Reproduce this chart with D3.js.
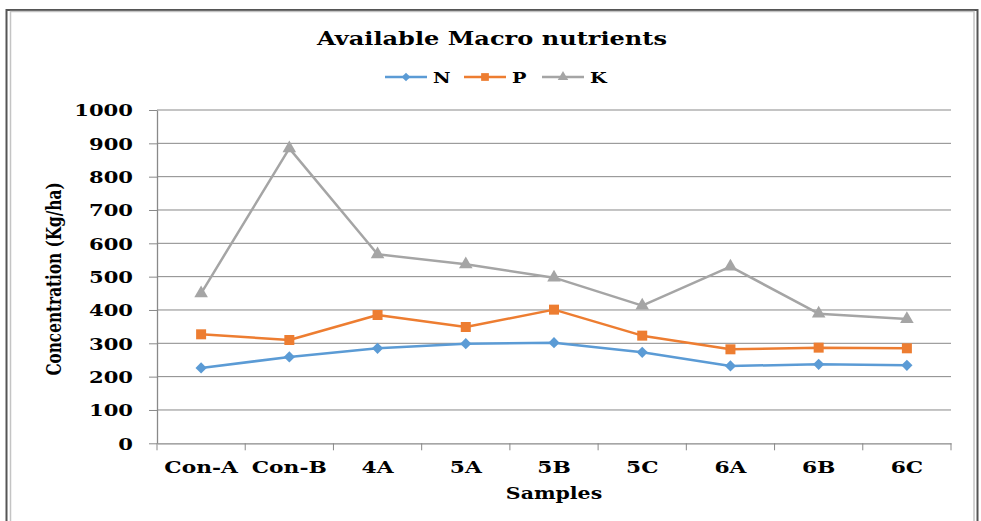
<!DOCTYPE html>
<html>
<head>
<meta charset="utf-8">
<script src="https://cdn.jsdelivr.net/npm/d3@7/dist/d3.min.js"></script>
<style>
  html, body { margin: 0; padding: 0; background: #fff; }
  svg { display: block; }
  .axis path, .axis line { stroke: #898989; }
</style>
</head>
<body>
<div class="app"></div>
<script>
'use strict'

// samples on the x axis
var categories = ["Con-A", "Con-B", "4A", "5A", "5B", "5C", "6A", "6B", "6C"];

// values (Kg/ha)
var nValues = [226, 259, 285, 299, 302, 273, 232, 237, 234];
var pValues = [327, 310, 385, 349, 401, 323, 282, 287, 285];
var kValues = [450, 885, 567, 537, 497, 413, 530, 389, 373];

var seriesNames = ["N", "P", "K"];
var yTicks = [0, 100, 200, 300, 400, 500, 600, 700, 800, 900, 1000];

var series = [
  { name: seriesNames[0], values: nValues, color: "#5b9bd5", symbol: d3.symbolDiamond2, size: 80 },
  { name: seriesNames[1], values: pValues, color: "#ed7d31", symbol: d3.symbolSquare, size: 100 },
  { name: seriesNames[2], values: kValues, color: "#a5a5a5", symbol: d3.symbolTriangle, size: 80 }
];

var W = 981, H = 521;
// the picture is a bit wider than the font, so text is stretched sideways
var stretch = 1.28;
var serif = "'DejaVu Serif', serif";

var plot = { left: 157, right: 951, top: 110, bottom: 443.3 };

var svg = d3.select(".app").append("svg")
  .attr("width", W)
  .attr("height", H);

// outer frame (double line)
svg.append("rect")
  .attr("x", 6.5).attr("y", 10)
  .attr("width", 971).attr("height", 530)
  .attr("fill", "#fff")
  .attr("stroke", "#555").attr("stroke-width", 2);
svg.append("rect")
  .attr("x", 10.5).attr("y", 11.5)
  .attr("width", 963.5).attr("height", 530)
  .attr("fill", "none")
  .attr("stroke", "#c4c4c4").attr("stroke-width", 1.5);

// scales
var x = d3.scaleBand().domain(categories).range([plot.left, plot.right]).padding(0);
var y = d3.scaleLinear().domain([0, 1000]).range([plot.bottom, plot.top]);
var cx = function(c) { return x(c) + x.bandwidth() / 2; };

// gridlines
svg.append("g")
  .selectAll("line")
  .data(yTicks.slice(1))
  .join("line")
  .attr("x1", plot.left).attr("x2", plot.right)
  .attr("y1", function(d) { return y(d); })
  .attr("y2", function(d) { return y(d); })
  .attr("stroke", "#898989")
  .attr("stroke-width", 1);

// y axis
var yAxis = svg.append("g")
  .attr("class", "axis")
  .attr("transform", "translate(" + plot.left + ",0)")
  .call(d3.axisLeft(y).tickValues(yTicks).tickFormat(d3.format("d")).tickSize(8).tickSizeOuter(0));

yAxis.select(".domain").attr("stroke-width", 1.3);
yAxis.selectAll(".tick text")
  .attr("x", 0)
  .attr("dy", "0.36em")
  .attr("transform", "translate(-24,0) scale(" + stretch + ",1)")
  .style("font-family", serif)
  .style("font-weight", "bold")
  .style("font-size", "16.5px")
  .attr("fill", "#000");

// x axis: labels at centres, ticks at band edges
var xAxis = svg.append("g")
  .attr("class", "axis")
  .attr("transform", "translate(0," + plot.bottom + ")")
  .call(d3.axisBottom(x).tickSize(0).tickSizeOuter(0));

xAxis.select(".domain").attr("stroke-width", 1.3);
xAxis.selectAll(".tick text")
  .attr("y", 0)
  .attr("dy", 0)
  .attr("transform", "translate(0,29.5) scale(" + stretch + ",1)")
  .style("font-family", serif)
  .style("font-weight", "bold")
  .style("font-size", "17px")
  .attr("fill", "#000");

var edges = categories.map(function(c) { return x(c); }).concat([plot.right]);
xAxis.append("g")
  .selectAll("line")
  .data(edges)
  .join("line")
  .attr("x1", function(d) { return d; })
  .attr("x2", function(d) { return d; })
  .attr("y1", 0)
  .attr("y2", 7)
  .attr("stroke", "#898989");

// lines and markers
var line = d3.line()
  .x(function(d, i) { return cx(categories[i]); })
  .y(function(d) { return y(d); });

series.forEach(function(s) {
  svg.append("path")
    .attr("d", line(s.values))
    .attr("fill", "none")
    .attr("stroke", s.color)
    .attr("stroke-width", 2.5)
    .attr("stroke-linejoin", "round");

  svg.append("g")
    .selectAll("path")
    .data(s.values)
    .join("path")
    .attr("d", d3.symbol().type(s.symbol).size(s.size))
    .attr("transform", function(d, i) {
      return "translate(" + cx(categories[i]) + "," + y(d) + ")";
    })
    .attr("fill", s.color);
});

// title
svg.append("text")
  .attr("transform", "translate(492,45) scale(" + stretch + ",1)")
  .attr("text-anchor", "middle")
  .style("font-family", serif)
  .style("font-weight", "bold")
  .style("font-size", "18.8px")
  .attr("fill", "#000")
  .text("Available Macro nutrients");

// legend
var legendX = [385, 464, 542];
series.forEach(function(s, i) {
  var g = svg.append("g").attr("transform", "translate(" + legendX[i] + ",77)");
  g.append("line")
    .attr("x1", 0).attr("x2", 42)
    .attr("y1", 0).attr("y2", 0)
    .attr("stroke", s.color)
    .attr("stroke-width", 2.5);
  g.append("path")
    .attr("d", d3.symbol().type(s.symbol).size(s.size * 0.6))
    .attr("transform", "translate(21,0)")
    .attr("fill", s.color);
  g.append("text")
    .attr("transform", "translate(48,6) scale(" + stretch + ",1)")
    .style("font-family", serif)
    .style("font-weight", "bold")
    .style("font-size", "15px")
    .attr("fill", "#000")
    .text(s.name);
});

// axis titles
svg.append("text")
  .attr("transform", "translate(61,279) scale(" + stretch + ",1) rotate(-90)")
  .attr("text-anchor", "middle")
  .style("font-family", serif)
  .style("font-weight", "bold")
  .style("font-size", "15.3px")
  .attr("fill", "#000")
  .text("Concentration (Kg/ha)");

svg.append("text")
  .attr("transform", "translate(554,499) scale(" + stretch + ",1)")
  .attr("text-anchor", "middle")
  .style("font-family", serif)
  .style("font-weight", "bold")
  .style("font-size", "16px")
  .attr("fill", "#000")
  .text("Samples");
</script>
</body>
</html>
